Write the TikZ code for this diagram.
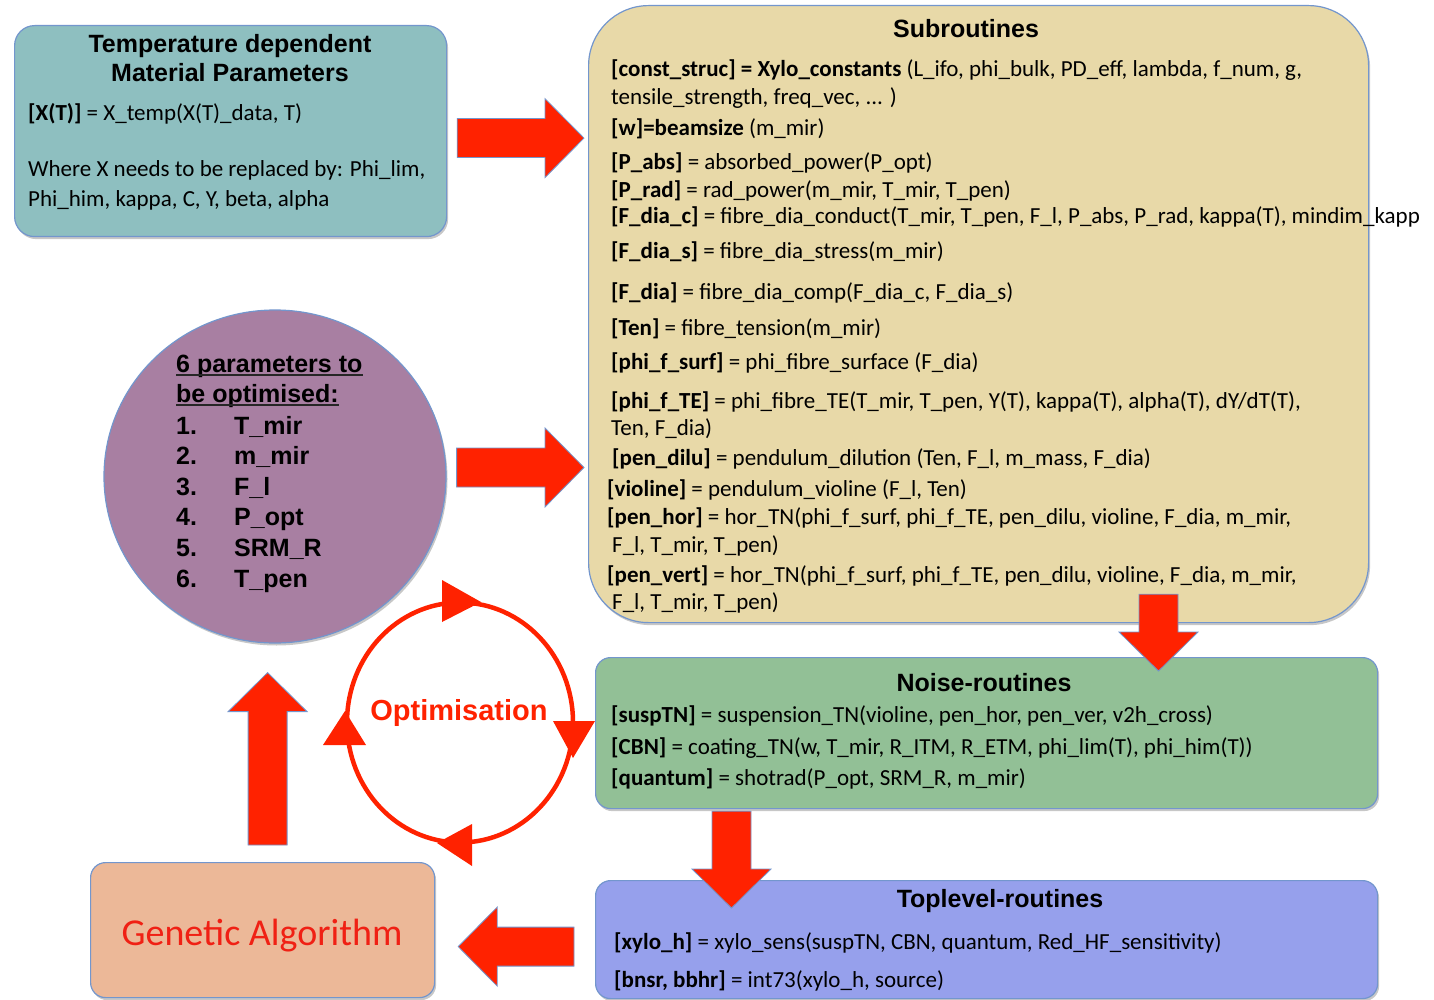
\documentclass[tikz,border=0pt]{standalone}
\usepackage{fontspec}
\setmainfont{Carlito}
\newfontfamily\hdfont{Liberation Sans}
\usetikzlibrary{calc,shapes.geometric,shadows}

\definecolor{tealF}{RGB}{142,191,192}
\definecolor{subF}{RGB}{232,217,168}
\definecolor{purpF}{RGB}{168,127,162}
\definecolor{greenF}{RGB}{146,192,150}
\definecolor{blueF}{RGB}{150,160,236}
\definecolor{gaF}{RGB}{236,184,152}
\definecolor{bord}{RGB}{115,150,205}
\definecolor{redA}{RGB}{255,34,0}
\definecolor{gaText}{RGB}{240,32,20}

\tikzset{
  box/.style={draw=bord, line width=1.2pt, anchor=north west, inner sep=0pt,
    drop shadow={shadow xshift=1.5pt, shadow yshift=-2.5pt, opacity=0.22, fill=black}},
  body/.style={font=\fontsize{23}{28}\selectfont, inner sep=0pt, anchor=west,
    text height=16.5pt, text depth=5pt, yshift=-2pt},
  head/.style={font=\hdfont\bfseries\fontsize{25}{29}\selectfont, inner sep=0pt,
    text height=18pt, text depth=5pt, yshift=-2.5pt},
  ctext/.style={head, anchor=west},
  uline/.style={draw=black!85, line width=1.8pt},
  barrow/.style={fill=redA, draw=bord, line width=0.8pt, line join=miter},
  cyc/.style={draw=redA, line width=4.5pt},
  tri/.style={fill=redA},
}

\newcommand{\blockarr}[2]{%
  \coordinate (bh) at ($(#2)!39pt!(#1)$);
  \draw[barrow] ($(#1)!19.5pt!90:(#2)$) -- ($(bh)!19.5pt!90:(#2)$)
    -- ($(bh)!39.5pt!90:(#2)$) -- (#2) -- ($(bh)!39.5pt!-90:(#2)$)
    -- ($(bh)!19.5pt!-90:(#2)$) -- ($(#1)!19.5pt!-90:(#2)$) -- cycle;
}

\begin{document}
\begin{tikzpicture}[x=1pt, y=-1pt]
\useasboundingbox[fill=white] (0,0) rectangle (1434,1000);

% ---------- boxes ----------
\node[box, fill=tealF, rounded corners=20pt, minimum width=432pt, minimum height=211pt] (temp) at (14,25) {};
\node[box, fill=subF, rounded corners=60pt, minimum width=780pt, minimum height=617pt] (sub) at (588,5) {};
\node[box, fill=greenF, rounded corners=15pt, minimum width=782pt, minimum height=151pt] (noise) at (595,657) {};
\node[box, fill=blueF, rounded corners=15pt, minimum width=782pt, minimum height=118pt] (top) at (595,880) {};
\node[box, fill=gaF, rounded corners=15pt, minimum width=344pt, minimum height=135pt] (ga) at (90,862) {};
\node[ellipse, draw=bord, line width=1.2pt, fill=purpF, minimum width=342pt, minimum height=333pt, inner sep=0pt,
  drop shadow={shadow xshift=1.5pt, shadow yshift=-2.5pt, opacity=0.22, fill=black}] (par) at (275,476.5) {};

% ---------- temperature box ----------
\node[head] (t1) at (230,44) {Temperature dependent};
\node[head] (t2) at (230,73) {Material Parameters};
\node[body] (t3) at (28,113) {\textbf{[X(T)]} = X\_temp(X(T)\_data, T)};
\node[body] (t4) at (28,169) {Where X needs to be replaced by: Phi\_lim,};
\node[body] (t5) at (28,199) {Phi\_him, kappa, C, Y, beta, alpha};

% ---------- subroutines ----------
\node[head] (s0) at (966,29) {Subroutines};
\node[body] (s1) at (611,69) {\textbf{[const\_struc] = Xylo\_constants} (L\_ifo, phi\_bulk, PD\_eff, lambda, f\_num, g,};
\node[body] (s2) at (611,97) {tensile\_strength, freq\_vec, ... )};
\node[body] (s3) at (611,128) {\textbf{[w]=beamsize} (m\_mir)};
\node[body] (s4) at (611,162) {\textbf{[P\_abs]} = absorbed\_power(P\_opt)};
\node[body] (s5) at (611,190) {\textbf{[P\_rad]} = rad\_power(m\_mir, T\_mir, T\_pen)};
\node[body] (s6) at (611,216) {\textbf{[F\_dia\_c]} = fibre\_dia\_conduct(T\_mir, T\_pen, F\_l, P\_abs, P\_rad, kappa(T), mindim\_kapp};
\node[body] (s7) at (611,251) {\textbf{[F\_dia\_s]} = fibre\_dia\_stress(m\_mir)};
\node[body] (s8) at (611,292) {\textbf{[F\_dia]} = fibre\_dia\_comp(F\_dia\_c, F\_dia\_s)};
\node[body] (s9) at (611,328) {\textbf{[Ten]} = fibre\_tension(m\_mir)};
\node[body] (s10) at (611,362) {\textbf{[phi\_f\_surf]} = phi\_fibre\_surface (F\_dia)};
\node[body] (s11) at (611,401) {\textbf{[phi\_f\_TE]} = phi\_fibre\_TE(T\_mir, T\_pen, Y(T), kappa(T), alpha(T), dY/dT(T),};
\node[body] (s12) at (611,428) {Ten, F\_dia)};
\node[body] (s13) at (612,458) {\textbf{[pen\_dilu]} = pendulum\_dilution (Ten, F\_l, m\_mass, F\_dia)};
\node[body] (s14) at (607,489) {\textbf{[violine]} = pendulum\_violine (F\_l, Ten)};
\node[body] (s15) at (607,517) {\textbf{[pen\_hor]} = hor\_TN(phi\_f\_surf, phi\_f\_TE, pen\_dilu, violine, F\_dia, m\_mir,};
\node[body] (s16) at (612,545) {F\_l, T\_mir, T\_pen)};
\node[body] (s17) at (607,575) {\textbf{[pen\_vert]} = hor\_TN(phi\_f\_surf, phi\_f\_TE, pen\_dilu, violine, F\_dia, m\_mir,};
\node[body] (s18) at (612,602) {F\_l, T\_mir, T\_pen)};

% ---------- noise ----------
\node[head] (n0) at (984,682) {Noise-routines};
\node[body] (n1) at (611,715) {\textbf{[suspTN]} = suspension\_TN(violine, pen\_hor, pen\_ver, v2h\_cross)};
\node[body] (n2) at (611,747) {\textbf{[CBN]} = coating\_TN(w, T\_mir, R\_ITM, R\_ETM, phi\_lim(T), phi\_him(T))};
\node[body] (n3) at (611,778) {\textbf{[quantum]} = shotrad(P\_opt, SRM\_R, m\_mir)};

% ---------- toplevel ----------
\node[head] (p0) at (1000,898) {Toplevel-routines};
\node[body] (p1) at (614,942) {\textbf{[xylo\_h]} = xylo\_sens(suspTN, CBN, quantum, Red\_HF\_sensitivity)};
\node[body] (p2) at (614,980) {\textbf{[bnsr, bbhr]} = int73(xylo\_h, source)};

% ---------- GA ----------
\node[font=\fontsize{38}{44}\selectfont, text=gaText, inner sep=0pt] (g0) at (262,936) {Genetic Algorithm};

% ---------- parameters circle ----------
\node[ctext] (c1) at (176,363) {6 parameters to};
\node[ctext] (c2) at (176,393) {be optimised:};
\draw[uline] ($(c1.base west)+(0,3)$) -- ($(c1.base east)+(0,3)$);
\draw[uline] ($(c2.base west)+(0,3)$) -- ($(c2.base east)+(0,3)$);
\foreach \n/\t/\y in {1/T\_mir/425, 2/m\_mir/455, 3/F\_l/486, 4/P\_opt/516, 5/SRM\_R/547, 6/T\_pen/578}{
  \node[ctext] (cn\n) at (176,\y) {\n.};
  \node[ctext] (cv\n) at (234,\y) {\t};
}

% ---------- optimisation cycle ----------
\coordinate (oc) at (460,722.5);
\draw[cyc] (oc) ellipse [x radius=113pt, y radius=120pt];
\fill[tri] (442,580) -- (442,622) -- (481,602) -- cycle;
\fill[tri] (553,721) -- (595,721) -- (573,758) -- cycle;
\fill[tri] (472,824) -- (472,866) -- (437,843) -- cycle;
\fill[tri] (323,745) -- (366,745) -- (345,711) -- cycle;
\node[font=\hdfont\bfseries\fontsize{29}{34}\selectfont, text=redA, anchor=base, inner sep=0pt] (optl) at (459,720) {Optimisation};

% ---------- block arrows ----------
\coordinate (a1s) at ($(temp.east)+(10,7)$);
\coordinate (a1e) at ($(sub.west |- a1s)+(-4,0)$);
\blockarr{a1s}{a1e}
\coordinate (a2s) at ($(par.east)+(10,-9)$);
\coordinate (a2e) at ($(sub.west |- a2s)+(-4,0)$);
\blockarr{a2s}{a2e}
\coordinate (a3e) at ($(noise.north west)+(563.5,14)$);
\coordinate (a3s) at ($(a3e |- sub.south)+(0,-29)$);
\blockarr{a3s}{a3e}
\coordinate (a4s) at ($(noise.south west)+(136.5,2)$);
\coordinate (a4e) at ($(top.north west)+(136.5,28)$);
\blockarr{a4s}{a4e}
\coordinate (a5s) at ($(top.west)+(-21,7)$);
\coordinate (a5e) at ($(ga.east |- a5s)+(23,0)$);
\blockarr{a5s}{a5e}
\coordinate (a6s) at ($(ga.north)+(5,-17)$);
\coordinate (a6e) at ($(a6s |- par.south)+(0,29)$);
\blockarr{a6s}{a6e}
\end{tikzpicture}
\end{document}
